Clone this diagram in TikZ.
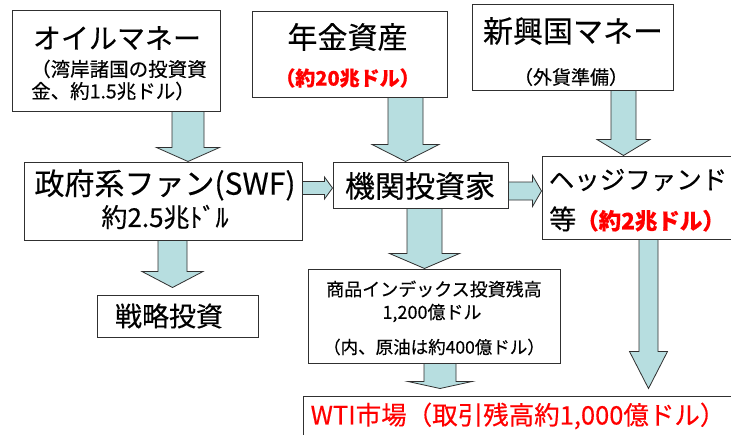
\documentclass[tikz,border=0pt]{standalone}
\usepackage{fontspec}
\setmainfont{Noto Sans CJK JP}[FakeBold=0.35]
\usetikzlibrary{calc}
\definecolor{arrowblue}{HTML}{B7DEE0}
\definecolor{hotred}{HTML}{FF0000}
\definecolor{edgegray}{HTML}{303030}
% vertical block arrow: #1 from, #2 to, #3 x centre, #4 shaft half, #5 head half, #6 head length, #7 gap above target
\newcommand\varrow[7]{%
  \draw[barrow] let \p1=(#1), \p2=(#2), \p3=(#3,0) in
    ({\x3-#4pt},\y1) -- ({\x3+#4pt},\y1) -- ({\x3+#4pt},{\y2+#7pt+#6pt})
    -- ({\x3+#5pt},{\y2+#7pt+#6pt}) -- (\x3,{\y2+#7pt})
    -- ({\x3-#5pt},{\y2+#7pt+#6pt}) -- ({\x3-#4pt},{\y2+#7pt+#6pt}) -- cycle;}
% horizontal block arrow: #1 from, #2 to, #3 y centre, #4 shaft half, #5 head half, #6 head length
\newcommand\harrow[6]{%
  \draw[barrow] let \p1=(#1), \p2=(#2), \p3=(0,#3) in
    (\x1,{\y3+#4pt}) -- ({\x2-#6pt},{\y3+#4pt}) -- ({\x2-#6pt},{\y3+#5pt})
    -- (\x2,\y3) -- ({\x2-#6pt},{\y3-#5pt}) -- ({\x2-#6pt},{\y3-#4pt})
    -- (\x1,{\y3-#4pt}) -- cycle;}
\begin{document}
\begin{tikzpicture}[x=1pt,y=-1pt,
  box/.style={draw=edgegray, fill=white, line width=1pt, inner sep=0pt},
  barrow/.style={fill=arrowblue, draw=edgegray, line width=0.8pt, line join=miter},
  lbl/.style={inner sep=0pt, anchor=center},
  fs/.style={font=\fontsize{#1}{#1}\selectfont},
]
\useasboundingbox (0,0) rectangle (731,434);
\fill[white] (0,0) rectangle (731,434);

% boxes
\node[box, minimum width=208pt, minimum height=101pt] (oil)   at (116,60.5) {};
\node[box, minimum width=195pt, minimum height=86pt]  (pens)  at (349.5,54) {};
\node[box, minimum width=201pt, minimum height=86pt]  (emer)  at (572.5,47) {};
\node[box, minimum width=278pt, minimum height=78pt]  (swf)   at (163,201) {};
\node[box, minimum width=175pt, minimum height=46pt]  (inst)  at (420.5,185) {};
\node[box, minimum width=198pt, minimum height=83pt]  (hedge) at (641,197.5) {};
\node[box, minimum width=161pt, minimum height=42pt]  (strat) at (177.5,316) {};
\node[box, minimum width=252pt, minimum height=94pt]  (comm)  at (434,316) {};
\node[box, minimum width=437pt, minimum height=49pt]  (wti)   at (521.5,420.5) {};

% texts
\node[lbl, fs=28] (oilA) at (117,38) {オイルマネー};
\node[lbl, fs=19.5, anchor=west] (oilB) at (31,69) {（湾岸諸国の投資資};
\node[lbl, fs=19.5, anchor=west] (oilC) at (31,91) {金、約1.5兆ドル）};

\node[lbl, fs=30] (pensA) at (347.5,37) {年金資産};
\node[lbl, text=hotred, font=\bfseries] (pensB) at (347.5,78) {\fontsize{20}{20}\selectfont（約20兆ドル）};

\node[lbl, fs=30] (emerA) at (573,31) {新興国マネー};
\node[lbl, fs=19] (emerB) at (571,77) {（外貨準備）};

\node[lbl, fs=30] (swfA) at (165,185) {政府系ファン(SWF)};
\node[lbl, fs=26] (swfB) at (165,217) {約2.5兆ﾄﾞﾙ};

\node[lbl, fs=30] (instA) at (420,186) {機関投資家};

\node[lbl, fs=25.5] (hedgeA) at (638,180) {ヘッジファンド};
\node[lbl, fs=27, anchor=west] (hedgeB) at (549,219) {等{\color{hotred}\bfseries\fontsize{22.5}{22.5}\selectfont （約2兆ドル）}};

\node[lbl, fs=27] (stratA) at (169,316) {戦略投資};

\node[lbl, fs=18] (commA) at (434,289) {商品インデックス投資残高};
\node[lbl, fs=18] (commB) at (432,313) {1,200億ドル};
\node[lbl, fs=17.5] (commC) at (434,347) {（内、原油は約400億ドル）};

\node[lbl, fs=25.5, text=hotred] (wtiA) at (518,416) {WTI市場（取引残高約1,000億ドル）};

% connectors
\varrow{oil.south}{swf.north}{188}{16}{31.5}{14}{0}
\varrow{pens.south}{inst.north}{405.5}{17.5}{33.5}{17}{0}
\varrow{emer.south}{hedge.north}{623.5}{12.5}{26.5}{16}{0}
\varrow{swf.south}{strat.north}{172.5}{14.5}{30.5}{16}{7}
\varrow{inst.south}{comm.north}{424.5}{17.5}{35}{15}{0}
\varrow{comm.south}{wti.north}{440}{16}{32}{7}{7}
\varrow{hedge.south}{wti.north}{648.5}{9.5}{19}{37}{7}
\harrow{swf.east}{inst.west}{188}{6.5}{11}{8}
\harrow{inst.east}{hedge.west}{191}{9}{15.5}{9}
\end{tikzpicture}
\end{document}
